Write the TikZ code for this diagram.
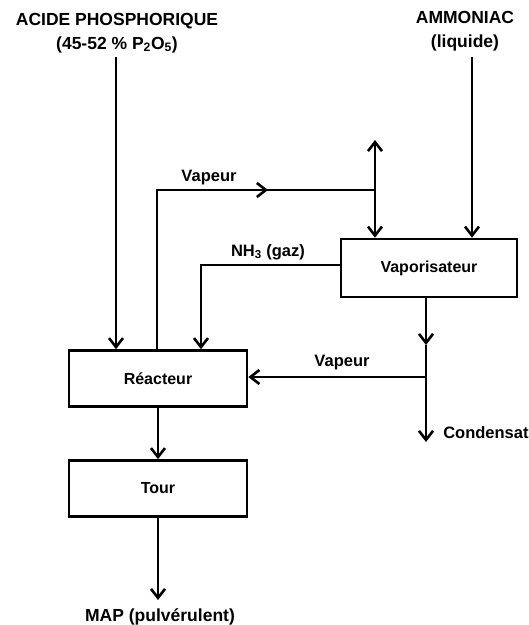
\documentclass[tikz,border=0pt]{standalone}
\usepackage{fontspec}
\setmainfont{Liberation Sans}
\usetikzlibrary{arrows.meta}
\begin{document}
\begin{tikzpicture}[x=1pt,y=-1pt,
  line width=2.6pt,
  arr/.style={-{Straight Barb[length=9pt,width=14pt]}},
  dblarr/.style={{Straight Barb[length=9pt,width=14pt]}-{Straight Barb[length=9pt,width=14pt]}},
  box/.style={draw,line width=2.6pt,minimum width=178pt,minimum height=56pt,inner sep=0pt,font=\fontsize{16}{18}\selectfont\bfseries},
  lbl/.style={inner sep=0pt,font=\fontsize{16.5}{18}\selectfont\bfseries},
  head/.style={inner sep=0pt,align=center,font=\fontsize{17.5}{24}\selectfont\bfseries}
]
\path[use as bounding box] (0,0) rectangle (529,625);

% boxes
\node[box] (reac) at (158,378.5) {R\'eacteur};
\node[box] (tour) at (158,488.5) {Tour};
\node[box,minimum width=176pt,minimum height=58pt] (vap) at (429,268) {Vaporisateur};

% headings
\node[head] (acid) at (117,33) {ACIDE PHOSPHORIQUE\\(45-52 \% P\textsubscript{2}O\textsubscript{5})};
\node[head] (ammo) at (465,31) {AMMONIAC\\(liquide)};
\node[lbl,font=\fontsize{17.5}{20}\selectfont\bfseries] (map) at (160,617) {MAP (pulv\'erulent)};
\node[lbl,anchor=west,font=\fontsize{16.5}{20}\selectfont\bfseries] (cond) at (442,433) {Condensat};

% coordinates
\coordinate (acidS) at (116,57);
\coordinate (ammoS) at (472,57);
\coordinate (stTop) at (375,140);
\coordinate (stJ) at (375,190);
\coordinate (stL) at (157,190);
\coordinate (stM) at (268,190);
\coordinate (nhL) at (201,265);
\coordinate (vb) at (426,297);
\coordinate (vM) at (426,345);
\coordinate (vJ) at (426,377);
\coordinate (vEnd) at (426,442);
\coordinate (mapE) at (158,600);

% acid feed
\draw[arr] (acidS) -- (acidS |- reac.north);
% ammonia feed
\draw[arr] (ammoS) -- (ammoS |- vap.north);
% steam loop
\draw (stL |- reac.north) -- (stL) -- (stM);
\draw[arr] (stL) -- (stM);
\draw (stM) -- (stJ);
\draw[dblarr] (stTop) -- (stTop |- vap.north);
\node[lbl] (vap1) at (209,178) {Vapeur};
% NH3 gas
\draw[arr] (vap.west |- nhL) -- (nhL) -- (nhL |- reac.north);
\node[lbl] (nh3) at (268,252) {NH\textsubscript{3} (gaz)};
% vaporiser outlet
\draw[arr] (vb) -- (vM);
\draw (vM) -- (vJ);
\draw[arr] (vJ) -- (vEnd);
\draw[arr] (vJ) -- (vJ -| reac.east);
\node[lbl] (vap2) at (342,363) {Vapeur};
% reactor to tower, tower to product
\draw[arr] (reac.south) -- (tour.north);
\draw[arr] (tour.south) -- (mapE);
\end{tikzpicture}
\end{document}
